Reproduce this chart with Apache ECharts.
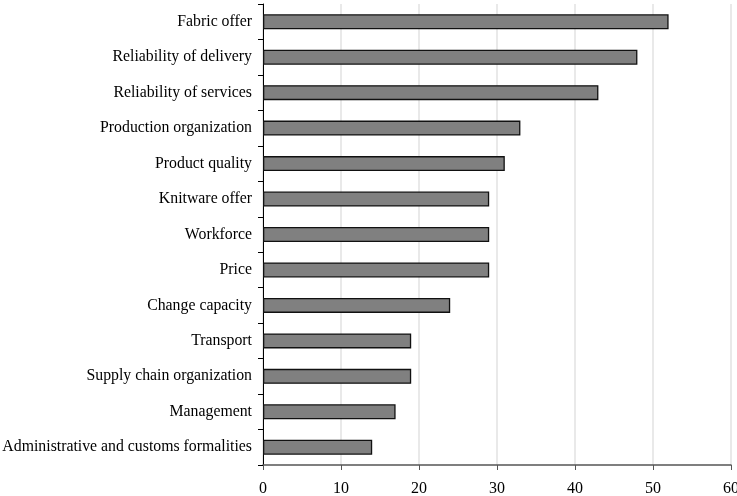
<!DOCTYPE html>
<html><head><meta charset="utf-8">
<script src="https://cdn.jsdelivr.net/npm/echarts@6/dist/echarts.min.js"></script>
<style>html,body{margin:0;padding:0;background:#fff}#c{width:737px;height:496px}</style>
</head><body><div id="c"></div>
<script>
const categories = ["Fabric offer","Reliability of delivery","Reliability of services","Production organization","Product quality","Knitware offer","Workforce","Price","Change capacity","Transport","Supply chain organization","Management","Administrative and customs formalities"];
const values = [52,48,43,33,31,29,29,29,24,19,19,17,14];
const xTicks = [0,10,20,30,40,50,60];

const chart = echarts.init(document.getElementById('c'));
chart.setOption({
  animation:false,
  grid:{left:263,right:6,top:4,bottom:31,containLabel:false,outerBoundsMode:'none'},
  xAxis:{type:'value',min:xTicks[0],max:xTicks[xTicks.length-1],interval:10,
    axisLine:{show:true,lineStyle:{color:'#555',width:1.5}},
    axisTick:{show:true,length:5,lineStyle:{color:'#555'}},
    axisLabel:{fontFamily:'Liberation Serif',fontSize:16,color:'#000',margin:16},
    splitLine:{show:true,lineStyle:{color:'#e2e2e2',width:1.5}}},
  yAxis:{type:'category',data:categories,inverse:true,
    axisLine:{show:true,lineStyle:{color:'#000',width:1}},
    axisTick:{show:true,length:5,lineStyle:{color:'#000'}},
    axisLabel:{fontFamily:'Liberation Serif',fontSize:15.8,color:'#000',margin:11}},
  series:[{type:'bar',data:values,barWidth:15,
    itemStyle:{color:'#808080',borderColor:'#111',borderWidth:1.3}}]
});
</script></body></html>
